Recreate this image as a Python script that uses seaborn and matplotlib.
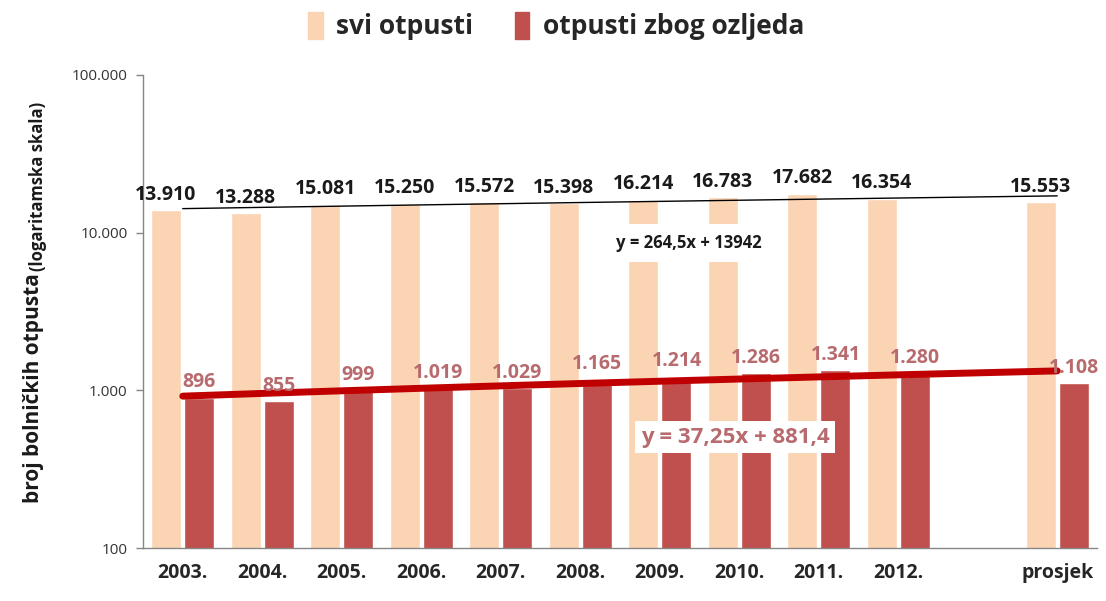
import numpy as np
import pandas as pd
import matplotlib
matplotlib.use("Agg")
import matplotlib.pyplot as plt
from matplotlib.ticker import FixedLocator, FuncFormatter, NullLocator
from matplotlib.patches import Patch
import seaborn as sns

# Data
godine = ["2003.", "2004.", "2005.", "2006.", "2007.", "2008.", "2009.", "2010.", "2011.", "2012."]
kategorije = godine + ["prosjek"]
svi_otpusti = [13910, 13288, 15081, 15250, 15572, 15398, 16214, 16783, 17682, 16354, 15553]
ozljede = [896, 855, 999, 1019, 1029, 1165, 1214, 1286, 1341, 1280, 1108]
serije = ["svi otpusti", "otpusti zbog ozljeda"]

# linear trendlines as given in the chart (x = 1..12)
trend_svi = (264.5, 13942)
trend_ozl = (37.25, 881.4)

peach = "#fbd4b4"
red_bar = "#c0504d"
red_line = "#c00000"
rose_txt = "#b86b6e"

df = pd.DataFrame({
    "kategorija": kategorije * 2,
    "serija": [serije[0]] * len(kategorije) + [serije[1]] * len(kategorije),
    "vrijednost": svi_otpusti + ozljede,
})
order = godine + [" ", "prosjek"]


def fmt_hr(v):
    return f"{int(round(v)):,}".replace(",", ".")


sns.set_style("white")
plt.rcParams["font.family"] = ["Open Sans", "DejaVu Sans"]

fig = plt.figure(figsize=(11.06, 6.01), dpi=100)
ax = fig.add_axes([143 / 1106, 53 / 601, (1097 - 143) / 1106, (548 - 75) / 601])
ax.set_yscale("log")

sns.barplot(data=df, x="kategorija", y="vrijednost", hue="serija", order=order,
            hue_order=serije, palette=[peach, red_bar], saturation=1,
            errorbar=None, width=0.84, gap=0.1, legend=False, ax=ax, zorder=2)

# data labels
ax.bar_label(ax.containers[0], labels=[fmt_hr(v) for v in svi_otpusti], padding=4,
             fontsize=14, fontweight="bold", color="#1a1a1a", zorder=6)
ax.bar_label(ax.containers[1], labels=[fmt_hr(v) for v in ozljede], padding=4,
             fontsize=14, fontweight="bold", color=rose_txt, zorder=6)

# trendlines
xs = np.arange(1, 13)
pos = np.arange(0, 12)
ax.plot(pos, trend_svi[0] * xs + trend_svi[1], color="black", lw=1, zorder=4)
ax.plot(pos, trend_ozl[0] * xs + trend_ozl[1], color=red_line, lw=5,
        solid_capstyle="round", zorder=4)

ax.text(6.36, 8650, "y = 264,5x + 13942", ha="center", va="center", fontsize=12,
        fontweight="bold", color="#1a1a1a", zorder=5,
        bbox=dict(boxstyle="square,pad=0.6", fc="white", ec="none"))
ax.text(6.95, 505, "y = 37,25x + 881,4", ha="center", va="center", fontsize=16,
        fontweight="bold", color=rose_txt, zorder=5,
        bbox=dict(boxstyle="square,pad=0.25", fc="white", ec="none"))

ax.set_ylim(100, 100000)
ax.set_xlim(-0.5, len(order) - 0.5)
ax.yaxis.set_major_locator(FixedLocator([100, 1000, 10000, 100000]))
ax.yaxis.set_minor_locator(NullLocator())
ax.yaxis.set_major_formatter(FuncFormatter(lambda v, p: fmt_hr(v)))
ax.tick_params(axis="y", left=True, length=5, width=1, color="#868686",
               labelsize=11, labelcolor="#333333", pad=6)
ax.tick_params(axis="x", length=0, pad=11, labelsize=14)
for t in ax.get_xticklabels():
    t.set_fontweight("bold")
ax.set_xlabel("")
ax.set_ylabel("")
for s in ["top", "right"]:
    ax.spines[s].set_visible(False)
for s in ["left", "bottom"]:
    ax.spines[s].set_color("#868686")
    ax.spines[s].set_linewidth(1)

# y axis title in two sizes
fig.text(34 / 1106, 1 - 273 / 601, "broj bolničkih otpusta", rotation=90, ha="center",
         va="top", fontsize=15, fontweight="bold", color="#1a1a1a")
fig.text(38 / 1106, 1 - 271 / 601, "(logaritamska skala)", rotation=90, ha="center",
         va="bottom", fontsize=12, fontweight="bold", color="#1a1a1a")

handles = [Patch(color=peach), Patch(color=red_bar)]
fig.legend(handles, serije, loc="center", bbox_to_anchor=(556 / 1106, 1 - 26 / 601),
           ncol=2, frameon=False, handlelength=0.55, handleheight=1.2,
           handletextpad=0.5, columnspacing=1.6,
           prop={"size": 19, "weight": "bold"})

fig.savefig("out.png", dpi=100)
